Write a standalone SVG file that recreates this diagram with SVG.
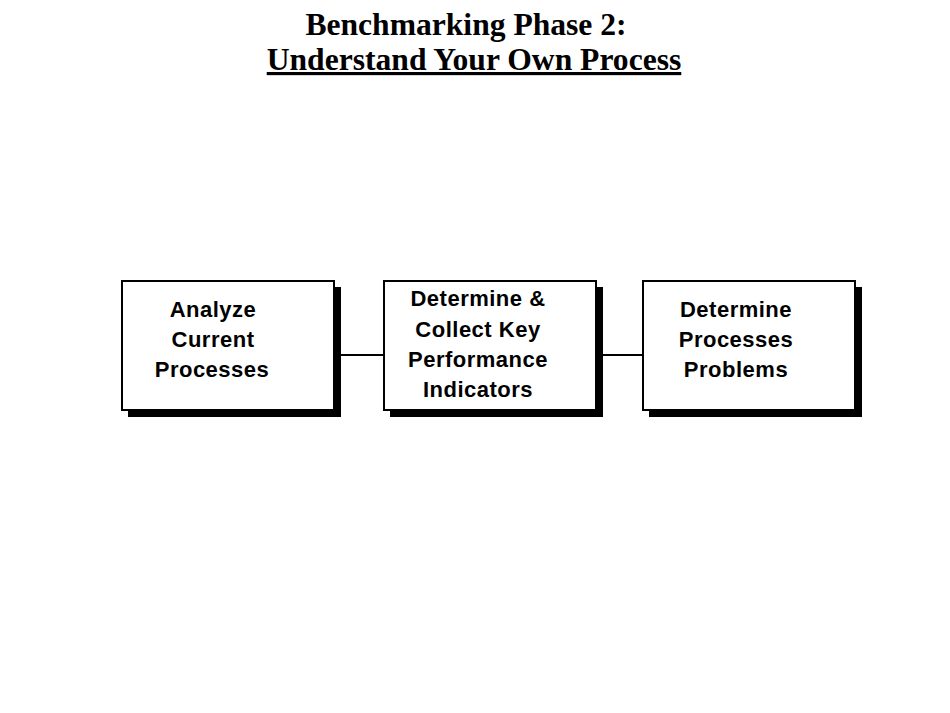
<svg xmlns="http://www.w3.org/2000/svg" width="950" height="713" viewBox="0 0 950 713">
<style>
.t{font-family:"Liberation Serif",serif;font-weight:bold;font-size:31.6px;text-anchor:middle;fill:#000}
.l{font-family:"Liberation Sans",Arial,sans-serif;font-weight:bold;font-size:22px;letter-spacing:0.5px;text-anchor:middle;fill:#000}
.sh{fill:#000}
.bx{fill:#fff;stroke:#000;stroke-width:2}
.c{stroke:#000;stroke-width:2;fill:none}
</style>
<rect width="950" height="713" fill="#fff"/>
<text class="t" x="466" y="35">Benchmarking Phase 2:</text>
<text class="t" x="474" y="70" text-decoration="underline">Understand Your Own Process</text>
<g id="connectors">
<line class="c" x1="340" y1="355" x2="384" y2="355"/>
<line class="c" x1="602" y1="355" x2="643" y2="355"/>
</g>
<g id="n1">
<rect class="sh" x="128" y="287" width="213" height="130"/>
<rect class="bx" x="122" y="281" width="212" height="129"/>
<text class="l" x="213" y="317">Analyze</text>
<text class="l" x="213" y="347">Current</text>
<text class="l" x="212" y="377">Processes</text>
</g>
<g id="n2">
<rect class="sh" x="390" y="287" width="213" height="130"/>
<rect class="bx" x="384" y="281" width="212" height="129"/>
<text class="l" x="478" y="306">Determine &amp;</text>
<text class="l" x="478" y="337">Collect Key</text>
<text class="l" x="478" y="367">Performance</text>
<text class="l" x="478" y="397">Indicators</text>
</g>
<g id="n3">
<rect class="sh" x="649" y="287" width="213" height="130"/>
<rect class="bx" x="643" y="281" width="212" height="129"/>
<text class="l" x="736" y="317">Determine</text>
<text class="l" x="736" y="347">Processes</text>
<text class="l" x="736" y="377">Problems</text>
</g>
</svg>
